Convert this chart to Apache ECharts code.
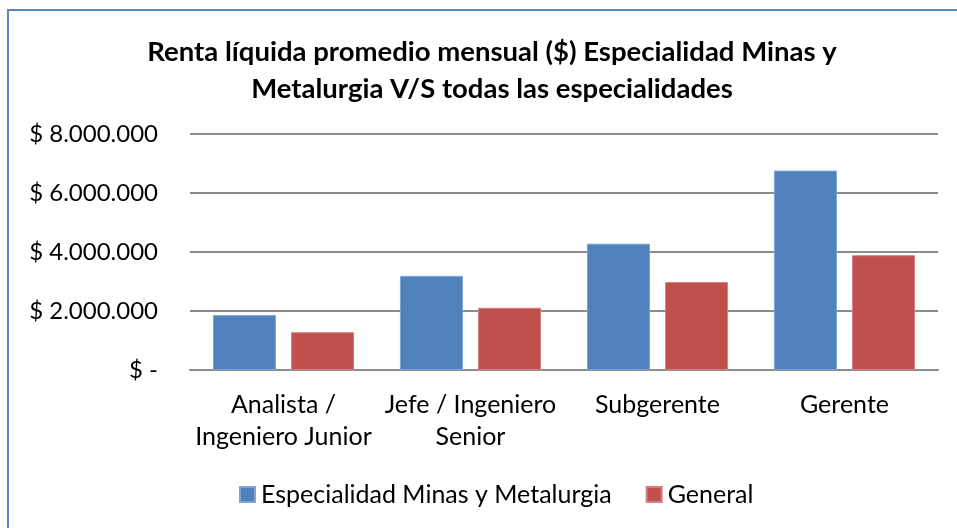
<!DOCTYPE html>
<html>
<head>
<meta charset="utf-8">
<script src="https://cdn.jsdelivr.net/npm/echarts@6/dist/echarts.min.js"></script>
<style>
  body { margin: 0; background: #fff; }
  #chart { position: absolute; left: 0; top: 0; width: 957px; height: 528px; }
  #frame {
    position: absolute; left: 7px; top: 9px; width: 960px; height: 530px;
    border-left: 2px solid #5a86c3; border-top: 2px solid #5a86c3;
    pointer-events: none;
  }
</style>
</head>
<body>
<div id="chart"></div>
<div id="frame"></div>
<script>
// categorías (puestos)
const categories = ['Analista /\nIngeniero Junior', 'Jefe / Ingeniero\nSenior', 'Subgerente', 'Gerente']
// renta líquida promedio mensual
const minasValues = [1860000, 3190000, 4280000, 6760000]
const generalValues = [1280000, 2110000, 2980000, 3890000]
const seriesNames = ['Especialidad Minas y Metalurgia', 'General']
// etiquetas del eje Y
const yTicks = [0, 2000000, 4000000, 6000000, 8000000]
const yTickLabels = ['$ -', '$ 2.000.000', '$ 4.000.000', '$ 6.000.000', '$ 8.000.000']

const font = 'Lato, "Open Sans", sans-serif'
const myChart = echarts.init(document.getElementById('chart'))

// dibujar gráfico
myChart.setOption({
  animation: false,
  color: ['#4f81bd', '#c0504d'],
  title: {
    text: 'Renta líquida promedio mensual ($) Especialidad Minas y\nMetalurgia V/S todas las especialidades',
    left: 487,
    top: 29,
    textAlign: 'center',
    textStyle: {
      fontFamily: font,
      fontWeight: 'bold',
      fontSize: 27.5,
      lineHeight: 37,
      color: '#000'
    }
  },
  legend: {
    data: seriesNames,
    bottom: 16,
    left: 234,
    icon: 'rect',
    itemWidth: 15,
    itemHeight: 15,
    itemGap: 34,
    textStyle: { fontFamily: font, fontSize: 25, color: '#000', padding: [0, 0, 0, 1] }
  },
  grid: {
    left: 190,
    right: 19,
    top: 134,
    bottom: 158
  },
  xAxis: {
    type: 'category',
    data: categories,
    axisLine: { lineStyle: { color: '#8c8c8c', width: 2 } },
    axisTick: { show: false },
    axisLabel: {
      margin: 19,
      interval: 0,
      fontFamily: font,
      fontSize: 25,
      lineHeight: 32,
      color: '#000'
    }
  },
  yAxis: {
    type: 'value',
    min: 0,
    max: 8000000,
    interval: 2000000,
    axisLine: { show: false },
    axisTick: { show: false },
    splitLine: { lineStyle: { color: '#8c8c8c', width: 2 } },
    axisLabel: {
      margin: 32,
      fontFamily: font,
      fontSize: 24,
      color: '#000',
      formatter: function (value) {
        return yTickLabels[yTicks.indexOf(value)]
      }
    }
  },
  series: [
    {
      name: seriesNames[0],
      type: 'bar',
      data: minasValues,
      barWidth: 63,
      barGap: '24%',
      itemStyle: { borderColor: '#7fa3d3', borderWidth: 1 }
    },
    {
      name: seriesNames[1],
      type: 'bar',
      data: generalValues,
      barWidth: 63,
      itemStyle: { borderColor: '#d47f7d', borderWidth: 1 }
    }
  ]
})
</script>
</body>
</html>
